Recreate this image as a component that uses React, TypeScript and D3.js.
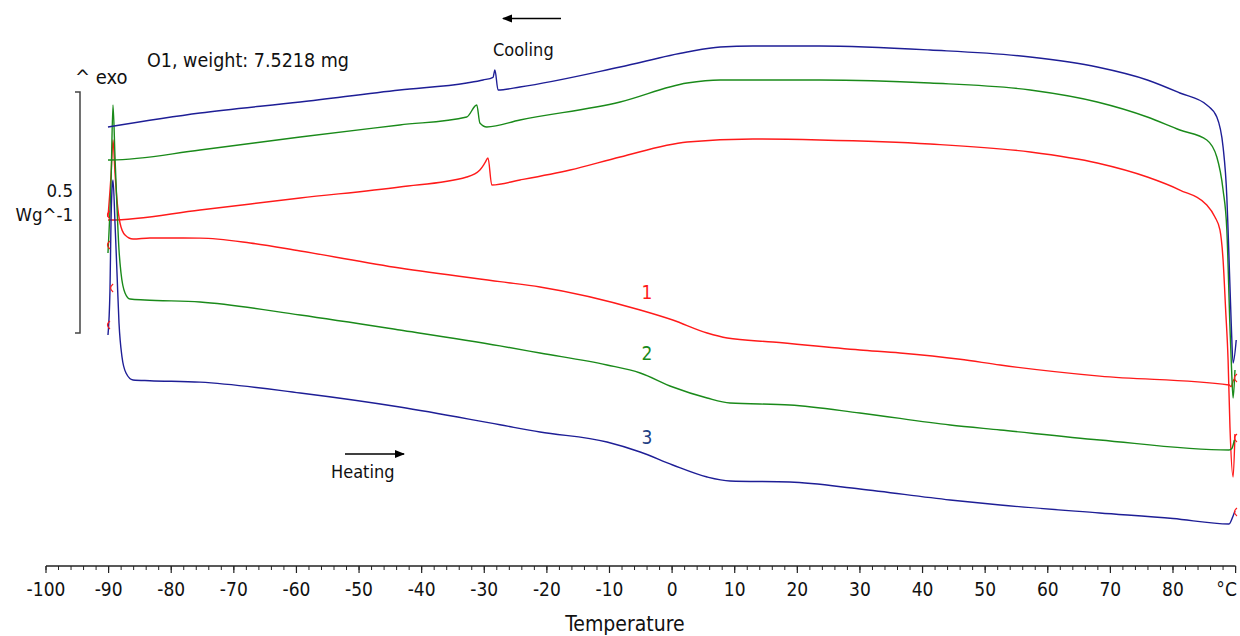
import React from 'react';
import * as d3 from 'd3';

// Temperature (°C), heat flow (W/g, arbitrary offset)
const redCooling: [number, number][] = [
  [89.9, 0.22], [89.6, 0.1307], [89.1, 0.2344], [88.8, 0.3734], [88.4, 0.48], [88.0, 0.5809], [87.5, 0.6432],
  [86.7, 0.6701], [85.4, 0.695], [81.1, 0.7261], [75.9, 0.7531], [67.9, 0.7822], [57.2, 0.805],
  [41.2, 0.8216], [23.6, 0.8299], [12.9, 0.832], [2.4, 0.8257], [-8.3, 0.7946], [-16.3, 0.7676],
  [-24.3, 0.7469], [-28.8, 0.7365], [-29.4, 0.7925], [-29.9, 0.7822], [-30.7, 0.7676], [-32.8, 0.7531],
  [-43.5, 0.7324], [-59.4, 0.7095], [-75.4, 0.6847], [-89.8, 0.6639], [-90.1, 0.6639],
];
const redHeating: [number, number][] = [
  [-90.1, 0.6701], [-89.6, 0.76], [-89.3, 0.8299], [-88.98, 0.7614], [-88.66, 0.7054], [-88.18, 0.6577],
  [-87.38, 0.6328], [-86.1, 0.6245], [-83.4, 0.6266], [-75.4, 0.6262], [-67.4, 0.6162], [-59.4, 0.5996],
  [-43.5, 0.5643], [-27.5, 0.536], [-21.1, 0.5249], [-5.1, 0.4772], [0.1, 0.4564], [5.6, 0.4295],
  [8.8, 0.4191], [16.1, 0.4108], [30.0, 0.3942], [36.4, 0.388], [46.0, 0.375], [52.4, 0.363],
  [68.3, 0.34], [88.95, 0.3216], [89.3, 0.318], [89.6, 0.33], [89.9, 0.335],
];
const greenCooling: [number, number][] = [
  [89.9, 0.3527], [89.6, 0.2946], [89.4, 0.34], [89.1, 0.4419], [88.6, 0.6432], [88.0, 0.7261],
  [87.0, 0.7946], [85.4, 0.8299], [81.1, 0.8506], [75.9, 0.8776], [67.9, 0.9087], [57.2, 0.9336],
  [41.2, 0.9481], [23.6, 0.9544], [7.7, 0.9544], [2.4, 0.9481], [-8.3, 0.9087], [-24.3, 0.8714],
  [-29.6, 0.8569], [-30.7, 0.8652], [-31.2, 0.9025], [-32.8, 0.8776], [-43.5, 0.861], [-59.4, 0.8361],
  [-75.4, 0.8091], [-89.6, 0.7884], [-90.1, 0.7884],
];
const greenHeating: [number, number][] = [
  [-90.1, 0.5954], [-89.6, 0.75], [-89.3, 0.9025], [-88.98, 0.7946], [-88.66, 0.6909], [-88.34, 0.6017],
  [-88.02, 0.5539], [-87.38, 0.5125], [-86.58, 0.5], [-84.2, 0.4979], [-75.4, 0.4938], [-59.4, 0.4668],
  [-43.5, 0.4357], [-27.5, 0.4027], [-21.1, 0.388], [-10.4, 0.3631], [-5.1, 0.3465], [0.1, 0.3174],
  [5.6, 0.2946], [9.25, 0.2842], [18.8, 0.2801], [30.0, 0.2635], [44.4, 0.2386], [52.4, 0.2282],
  [68.3, 0.2075], [88.95, 0.1867], [89.4, 0.19], [89.8, 0.2075],
];
const blueCooling: [number, number][] = [
  [90.1, 0.4149], [89.6, 0.3672], [89.3, 0.45], [88.8, 0.6432], [88.6, 0.7116], [88.0, 0.8154],
  [87.0, 0.8776], [85.4, 0.9025], [81.1, 0.9274], [75.9, 0.9544], [67.9, 0.9813], [57.2, 1.0021],
  [41.2, 1.0166], [23.6, 1.0249], [12.9, 1.0249], [7.7, 1.0228], [2.4, 1.0125], [-8.3, 0.9813],
  [-24.3, 0.9398], [-27.8, 0.9336], [-28.3, 0.9751], [-28.6, 0.96], [-30.2, 0.9544], [-32.8, 0.9481],
  [-43.5, 0.9336], [-59.4, 0.9087], [-75.4, 0.8859], [-90.1, 0.8569],
];
const blueHeating: [number, number][] = [
  [-90.1, 0.4253], [-89.78, 0.5187], [-89.62, 0.6577], [-89.46, 0.7261], [-89.3, 0.7469], [-88.98, 0.6577],
  [-88.66, 0.5539], [-88.34, 0.4502], [-87.86, 0.3797], [-87.22, 0.3465], [-86.1, 0.332], [-83.4, 0.3305],
  [-75.4, 0.3275], [-59.4, 0.305], [-43.5, 0.2759], [-27.5, 0.239], [-21.1, 0.2241], [-10.4, 0.2033],
  [-5.1, 0.1826], [0.1, 0.1556], [5.6, 0.1307], [9.25, 0.1224], [18.8, 0.1203], [30.0, 0.1058],
  [44.4, 0.083], [52.4, 0.0726], [68.3, 0.056], [80.0, 0.0445], [88.95, 0.0332], [89.6, 0.05], [89.9, 0.06],
];
const segmentMarkers: [number, number][] = [
  [-90.1, 0.6743], [-90.1, 0.612], [-89.6, 0.5228], [-90.1, 0.4461],
  [89.9, 0.336], [89.9, 0.2116], [89.9, 0.0581],
];
const majorTicks = [-100, -90, -80, -70, -60, -50, -40, -30, -20, -10, 0, 10, 20, 30, 40, 50, 60, 70, 80, 90];
const tickLabels = ['-100', '-90', '-80', '-70', '-60', '-50', '-40', '-30', '-20', '-10', '0', '10', '20', '30', '40', '50', '60', '70', '80', '°C'];
const minorTicks = d3.range(-100, 90.01, 2);
const scaleBar = [0.4295, 0.9295];
const curveLabels = [
  { text: '1', t: -4, v: 0.5 },
  { text: '2', t: -4, v: 0.3734 },
  { text: '3', t: -4, v: 0.1992 },
];

const RED = '#ff1a1a';
const GREEN = '#1a8a1a';
const BLUE = '#1e1e96';
const LABEL_COLORS = [RED, GREEN, '#233f84'];

export default function App() {
  const x = d3.scaleLinear().domain([-100, 90]).range([46, 1235.6]);
  const y = d3.scaleLinear().domain([0, 1]).range([540, 58]);
  const line = d3
    .line<[number, number]>()
    .x((d) => x(d[0]))
    .y((d) => y(d[1]))
    .curve(d3.curveMonotoneX);
  const axisY = 566;
  const font = '"DejaVu Sans Condensed", "DejaVu Sans", sans-serif';
  const rev = (a: [number, number][]) => a.slice().reverse();
  const series: [[number, number][], string][] = [
    [rev(redCooling), RED], [redHeating, RED], [rev(greenCooling), GREEN], [greenHeating, GREEN],
    [rev(blueCooling), BLUE], [blueHeating, BLUE],
  ];
  const barTop = y(scaleBar[1]);
  const barBot = y(scaleBar[0]);
  return (
    <svg width={1240} height={636} style={{ position: 'absolute', left: 0, top: 0, background: '#fff' }} fontFamily={font} fontStretch="condensed">
      <defs>
        <marker id="ah" viewBox="0 0 10 10" refX="9" refY="5" markerWidth="7" markerHeight="7" orient="auto-start-reverse">
          <path d="M0,1 L10,5 L0,9 z" fill="#000" />
        </marker>
      </defs>
      {/* axis */}
      <line x1={x(-100)} x2={x(90)} y1={axisY} y2={axisY} stroke="#222" strokeWidth={1.3} />
      {minorTicks.map((t) => (
        <line key={'m' + t} x1={x(t)} x2={x(t)} y1={axisY} y2={axisY + 4} stroke="#222" strokeWidth={1} />
      ))}
      {majorTicks.map((t, i) => (
        <g key={'M' + t}>
          <line x1={x(t)} x2={x(t)} y1={axisY} y2={axisY + 7} stroke="#222" strokeWidth={1.2} />
          <text x={i === majorTicks.length - 1 ? x(t) - 9 : x(t)} y={596} textAnchor="middle" fontSize={19} fill="#111">
            {tickLabels[i]}
          </text>
        </g>
      ))}
      <text x={625} y={631} textAnchor="middle" fontSize={21} fill="#111">Temperature</text>
      {/* scale bar */}
      <path d={`M75,${barTop} H80 V${barBot} H75`} fill="none" stroke="#444" strokeWidth={1.5} />
      <text x={73} y={197} textAnchor="end" fontSize={18.5} fill="#111">0.5</text>
      <text x={73} y={221} textAnchor="end" fontSize={18.5} fill="#111">Wg^-1</text>
      <text x={75} y={84} fontSize={20} fill="#111">^ exo</text>
      <text x={147} y={67} fontSize={19.5} fill="#111">O1, weight: 7.5218 mg</text>
      {/* annotations */}
      <line x1={561} x2={503} y1={18.5} y2={18.5} stroke="#000" strokeWidth={1.5} markerEnd="url(#ah)" />
      <text x={493} y={56} fontSize={18} fill="#111">Cooling</text>
      <line x1={345} x2={404} y1={454} y2={454} stroke="#000" strokeWidth={1.5} markerEnd="url(#ah)" />
      <text x={331} y={478} fontSize={18} fill="#111">Heating</text>
      {/* curves */}
      {series.map(([d, c], i) => (
        <path key={i} d={line(d) || ''} fill="none" stroke={c} strokeWidth={1.4} strokeLinejoin="round" />
      ))}
      {segmentMarkers.map(([t, v], i) => {
        const cx = x(t);
        const cy = y(v);
        return (
          <path key={'s' + i} d={`M${cx + 2},${cy - 4} Q${cx - 3},${cy} ${cx + 2},${cy + 4}`} fill="none" stroke={RED} strokeWidth={1.2} />
        );
      })}
      {curveLabels.map((l, i) => (
        <text key={l.text} x={x(l.t)} y={y(l.v)} textAnchor="middle" fontSize={19} fill={LABEL_COLORS[i]}>
          {l.text}
        </text>
      ))}
    </svg>
  );
}
